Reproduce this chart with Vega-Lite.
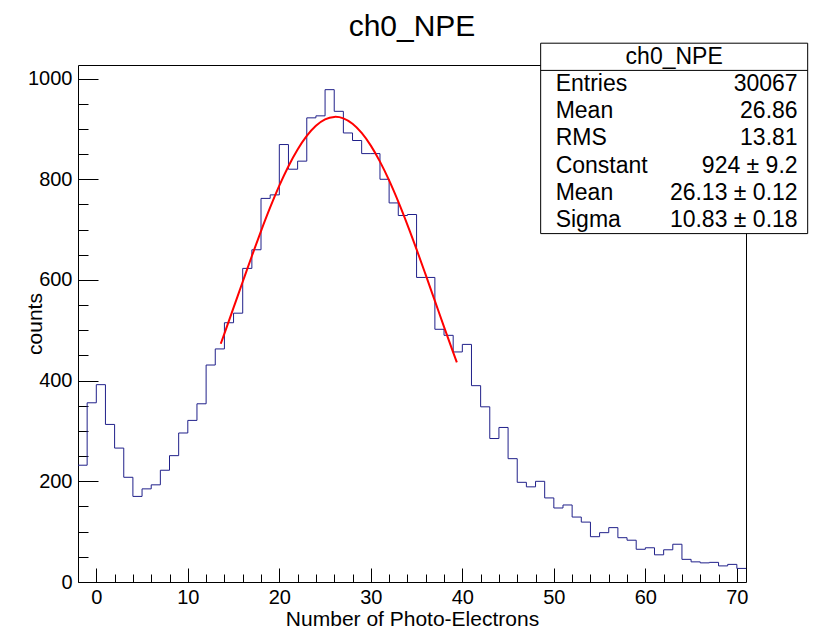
{
  "$schema": "https://vega.github.io/schema/vega-lite/v6.json",
  "width": 668,
  "height": 517,
  "autosize": {"type": "none"},
  "padding": {"left": 78, "top": 65, "right": 74, "bottom": 50},
  "background": "white",
  "title": {"text": "ch0_NPE", "fontSize": 30, "font": "Liberation Sans", "fontWeight": "normal", "color": "black", "anchor": "middle", "offset": 1},
  "config": {
    "view": {"stroke": null},
    "font": "Liberation Sans",
    "axis": {"domainColor": "black", "tickColor": "black", "labelColor": "black", "titleColor": "black", "labelFont": "Liberation Sans", "titleFont": "Liberation Sans", "titleFontWeight": "normal", "grid": false, "labelFontSize": 20, "titleFontSize": 21, "tickWidth": 1, "domainWidth": 1}
  },
  "datasets": {
    "hist": [
      {"x": -2, "count": 232}, {"x": -1, "count": 356}, {"x": 0, "count": 392}, {"x": 1, "count": 313},
      {"x": 2, "count": 266}, {"x": 3, "count": 208}, {"x": 4, "count": 170}, {"x": 5, "count": 185},
      {"x": 6, "count": 193}, {"x": 7, "count": 222}, {"x": 8, "count": 251}, {"x": 9, "count": 296},
      {"x": 10, "count": 321}, {"x": 11, "count": 354}, {"x": 12, "count": 431}, {"x": 13, "count": 463},
      {"x": 14, "count": 515}, {"x": 15, "count": 534}, {"x": 16, "count": 623}, {"x": 17, "count": 660},
      {"x": 18, "count": 762}, {"x": 19, "count": 769}, {"x": 20, "count": 869}, {"x": 21, "count": 820},
      {"x": 22, "count": 836}, {"x": 23, "count": 922}, {"x": 24, "count": 926}, {"x": 25, "count": 978},
      {"x": 26, "count": 935}, {"x": 27, "count": 892}, {"x": 28, "count": 877}, {"x": 29, "count": 851},
      {"x": 30, "count": 851}, {"x": 31, "count": 800}, {"x": 32, "count": 753}, {"x": 33, "count": 728},
      {"x": 34, "count": 730}, {"x": 35, "count": 605}, {"x": 36, "count": 605}, {"x": 37, "count": 502},
      {"x": 38, "count": 490}, {"x": 39, "count": 457}, {"x": 40, "count": 472}, {"x": 41, "count": 390},
      {"x": 42, "count": 348}, {"x": 43, "count": 285}, {"x": 44, "count": 307}, {"x": 45, "count": 245},
      {"x": 46, "count": 198}, {"x": 47, "count": 189}, {"x": 48, "count": 200}, {"x": 49, "count": 167},
      {"x": 50, "count": 147}, {"x": 51, "count": 153}, {"x": 52, "count": 129}, {"x": 53, "count": 119},
      {"x": 54, "count": 90}, {"x": 55, "count": 98}, {"x": 56, "count": 108}, {"x": 57, "count": 88},
      {"x": 58, "count": 83}, {"x": 59, "count": 65}, {"x": 60, "count": 68}, {"x": 61, "count": 54},
      {"x": 62, "count": 64}, {"x": 63, "count": 75}, {"x": 64, "count": 45}, {"x": 65, "count": 40},
      {"x": 66, "count": 38}, {"x": 67, "count": 39}, {"x": 68, "count": 32}, {"x": 69, "count": 35},
      {"x": 70, "count": 27}, {"x": 71, "count": 27}
    ],
    "fit": [
      {"x": 13.6, "y": 473.2}, {"x": 14, "y": 493.5}, {"x": 15, "y": 544.9}, {"x": 16, "y": 596.5},
      {"x": 17, "y": 647.6}, {"x": 18, "y": 697.1}, {"x": 19, "y": 744.0}, {"x": 20, "y": 787.3},
      {"x": 21, "y": 826.0}, {"x": 22, "y": 859.2}, {"x": 23, "y": 886.2}, {"x": 24, "y": 906.3},
      {"x": 25, "y": 919.0}, {"x": 26, "y": 923.9}, {"x": 26.13, "y": 924.0}, {"x": 27, "y": 921.0},
      {"x": 28, "y": 910.3}, {"x": 29, "y": 892.1}, {"x": 30, "y": 866.9}, {"x": 31, "y": 835.1},
      {"x": 32, "y": 797.8}, {"x": 33, "y": 755.6}, {"x": 34, "y": 709.6}, {"x": 35, "y": 660.8},
      {"x": 36, "y": 610.0}, {"x": 37, "y": 558.4}, {"x": 38, "y": 506.8}, {"x": 39, "y": 456.1},
      {"x": 39.4, "y": 436.2}
    ],
    "stats": [
      {"row": 0, "label": "Entries", "value": "30067"},
      {"row": 1, "label": "Mean", "value": "26.86"},
      {"row": 2, "label": "RMS", "value": "13.81"},
      {"row": 3, "label": "Constant", "value": "924 ± 9.2"},
      {"row": 4, "label": "Mean", "value": "26.13 ± 0.12"},
      {"row": 5, "label": "Sigma", "value": "10.83 ± 0.18"}
    ],
    "box": [{"title": "ch0_NPE"}]
  },
  "layer": [
    {
      "layer": [
        {
          "data": {"name": "hist"},
          "mark": {"type": "line", "interpolate": "step-after", "color": "#20208a", "strokeWidth": 1},
          "encoding": {
            "x": {"field": "x", "type": "quantitative", "scale": {"domain": [-2, 71], "nice": false, "zero": false},
              "axis": {"orient": "bottom", "values": [0,2,4,6,8,10,12,14,16,18,20,22,24,26,28,30,32,34,36,38,40,42,44,46,48,50,52,54,56,58,60,62,64,66,68,70],
                "tickCount": 100,
                "labelExpr": "datum.value % 10 === 0 ? datum.label : ''",
                "tickSize": {"condition": {"test": "datum.value % 10 === 0", "value": -14}, "value": -8},
                "labelPadding": 19, "labelFlush": false, "labelOverlap": false,
                "title": "Number of Photo-Electrons", "titlePadding": -5}},
            "y": {"field": "count", "type": "quantitative", "scale": {"domain": [0, 1027], "nice": false, "zero": true},
              "axis": {"orient": "left", "values": [0,50,100,150,200,250,300,350,400,450,500,550,600,650,700,750,800,850,900,950,1000],
                "tickCount": 100,
                "labelExpr": "datum.value % 200 === 0 ? datum.label : ''", "format": "d",
                "tickSize": {"condition": {"test": "datum.value % 200 === 0", "value": -20}, "value": -10},
                "labelPadding": 26, "labelOverlap": false, "labelFlush": false,
                "title": "counts", "titlePadding": -18}}
          }
        },
        {
          "data": {"name": "fit"},
          "mark": {"type": "line", "interpolate": "monotone", "color": "#ff0000", "strokeWidth": 2},
          "encoding": {
            "x": {"field": "x", "type": "quantitative", "scale": {"domain": [-2, 71], "nice": false, "zero": false}},
            "y": {"field": "y", "type": "quantitative", "scale": {"domain": [0, 1027], "nice": false, "zero": true}}
          }
        }
      ]
    },
    {
      "data": {"name": "box"},
      "layer": [
        {
          "mark": {"type": "rect", "fill": "white", "stroke": "black", "strokeWidth": 1},
          "encoding": {
            "x": {"datum": 48.56, "type": "quantitative", "scale": {"domain": [-2, 71], "nice": false, "zero": false},
              "axis": {"orient": "top", "ticks": false, "labels": false, "title": null, "domain": true}},
            "x2": {"datum": 77.74},
            "y": {"datum": -1.5, "type": "quantitative", "scale": {"domain": [-0.6985, 18.309], "nice": false, "zero": false, "reverse": true},
              "axis": {"orient": "right", "ticks": false, "labels": false, "title": null, "domain": true}},
            "y2": {"datum": 5.5}
          }
        },
        {
          "mark": {"type": "rule", "color": "black", "strokeWidth": 1},
          "encoding": {
            "x": {"datum": 48.56, "type": "quantitative", "scale": {"domain": [-2, 71], "nice": false, "zero": false},
              "axis": {"orient": "top", "ticks": false, "labels": false, "title": null, "domain": true}},
            "x2": {"datum": 77.74},
            "y": {"datum": -0.5, "type": "quantitative", "scale": {"domain": [-0.6985, 18.309], "nice": false, "zero": false, "reverse": true},
              "axis": {"orient": "right", "ticks": false, "labels": false, "title": null, "domain": true}}
          }
        },
        {
          "mark": {"type": "text", "fontSize": 23, "font": "Liberation Sans", "align": "center", "baseline": "middle", "color": "black"},
          "encoding": {
            "x": {"datum": 63.15, "type": "quantitative", "scale": {"domain": [-2, 71], "nice": false, "zero": false},
              "axis": {"orient": "top", "ticks": false, "labels": false, "title": null, "domain": true}},
            "y": {"datum": -1, "type": "quantitative", "scale": {"domain": [-0.6985, 18.309], "nice": false, "zero": false, "reverse": true},
              "axis": {"orient": "right", "ticks": false, "labels": false, "title": null, "domain": true}},
            "text": {"field": "title"}
          }
        },
        {
          "data": {"name": "stats"},
          "mark": {"type": "text", "fontSize": 23, "font": "Liberation Sans", "align": "left", "baseline": "middle", "color": "black"},
          "encoding": {
            "x": {"datum": 50.2, "type": "quantitative", "scale": {"domain": [-2, 71], "nice": false, "zero": false},
              "axis": {"orient": "top", "ticks": false, "labels": false, "title": null, "domain": true}},
            "y": {"field": "row", "type": "quantitative", "scale": {"domain": [-0.6985, 18.309], "nice": false, "zero": false, "reverse": true},
              "axis": {"orient": "right", "ticks": false, "labels": false, "title": null, "domain": true}},
            "text": {"field": "label"}
          }
        },
        {
          "data": {"name": "stats"},
          "mark": {"type": "text", "fontSize": 23, "font": "Liberation Sans", "align": "right", "baseline": "middle", "color": "black"},
          "encoding": {
            "x": {"datum": 76.64, "type": "quantitative", "scale": {"domain": [-2, 71], "nice": false, "zero": false},
              "axis": {"orient": "top", "ticks": false, "labels": false, "title": null, "domain": true}},
            "y": {"field": "row", "type": "quantitative", "scale": {"domain": [-0.6985, 18.309], "nice": false, "zero": false, "reverse": true},
              "axis": {"orient": "right", "ticks": false, "labels": false, "title": null, "domain": true}},
            "text": {"field": "value"}
          }
        }
      ]
    }
  ],
  "resolve": {"scale": {"y": "independent"}, "axis": {"x": "independent", "y": "independent"}}
}
